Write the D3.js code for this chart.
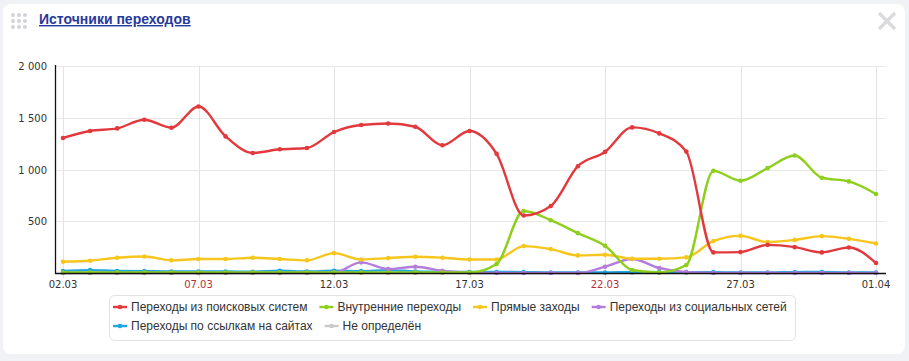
<!DOCTYPE html>
<html><head><meta charset="utf-8">
<script src="https://cdn.jsdelivr.net/npm/d3@7/dist/d3.min.js"></script>
<style>
html,body{margin:0;padding:0;background:#f1f2f6;}
svg{display:block;}
</style></head>
<body>
<svg id="c" width="909" height="361"></svg>
<script>
const dates = ["02.03","03.03","04.03","05.03","06.03","07.03","08.03","09.03","10.03","11.03","12.03","13.03","14.03","15.03","16.03","17.03","18.03","19.03","20.03","21.03","22.03","23.03","24.03","25.03","26.03","27.03","28.03","29.03","30.03","31.03","01.04"];
const tickLabels = ["02.03","07.03","12.03","17.03","22.03","27.03","01.04"];
const redTicks = ["07.03","22.03"];
const yTicks = [500,1000,1500,2000];
const seriesNames = ["Переходы из поисковых систем","Внутренние переходы","Прямые заходы","Переходы из социальных сетей","Переходы по ссылкам на сайтах","Не определён"];
const search   = [1305,1372,1397,1481,1404,1609,1320,1160,1195,1208,1362,1430,1445,1413,1234,1372,1151,555,647,1032,1170,1407,1349,1173,199,202,272,250,199,247,96];
const internal = [5,5,5,5,5,5,5,5,5,5,5,5,5,5,5,5,87,599,510,385,263,29,5,77,987,891,1013,1135,920,885,763];
const direct   = [109,119,148,160,122,135,135,148,135,122,192,131,144,157,148,131,131,260,231,170,176,138,138,151,308,359,298,320,356,330,285];
const social   = [0,0,0,0,0,0,0,0,0,0,2,103,38,61,22,3,0,0,0,0,61,135,48,8,0,0,0,0,0,0,0];
const links    = [20,28,20,18,15,15,15,12,22,15,22,18,28,15,12,10,10,8,5,5,5,10,8,8,8,5,5,8,10,5,5];
const unknown  = [2,2,2,2,2,2,2,2,2,2,2,2,2,2,2,2,2,2,2,2,2,2,2,2,2,2,2,2,2,2,2];
const colors = ["#e2393d","#8dcf1b","#f6c61c","#b47ddb","#1ea6e0","#c9c9c9"];
const allSeries = [search, internal, direct, social, links, unknown];

const svg = d3.select("#c");
// card
svg.append("rect").attr("x",3).attr("y",4).attr("width",902).attr("height",350).attr("rx",8).attr("fill","#fff");
// dots icon
for(let i=0;i<3;i++)for(let j=0;j<3;j++)
  svg.append("circle").attr("cx",13+j*6).attr("cy",15+i*6).attr("r",2).attr("fill","#d4d4d8");
svg.append("text").attr("x",39).attr("y",24).text("Источники переходов")
  .attr("font-family","Liberation Sans, Arial, sans-serif").attr("font-size",14).attr("font-weight","bold")
  .attr("fill","#27399a").attr("text-decoration","underline");
// close X
svg.append("path").attr("d","M879,13 L895,29 M895,13 L879,29").attr("stroke","#dadadd").attr("stroke-width",3.2);

const x = d3.scalePoint().domain(dates).range([63,876]);
const y = d3.scaleLinear().domain([0,2000]).range([273,66]);
const g = svg.append("g");
// horizontal grid
g.selectAll(".hg").data(yTicks).join("line")
  .attr("x1",55).attr("x2",886).attr("y1",d=>Math.round(y(d))+0.5).attr("y2",d=>Math.round(y(d))+0.5)
  .attr("stroke","#e8e8e8");
// vertical grid
g.selectAll(".vg").data(tickLabels).join("line")
  .attr("x1",d=>Math.round(x(d))+0.5).attr("x2",d=>Math.round(x(d))+0.5).attr("y1",66).attr("y2",278)
  .attr("stroke","#e3e3e3");
// y labels
g.selectAll(".yl").data(yTicks).join("text")
  .attr("x",47).attr("y",d=>y(d)+4).attr("text-anchor","end")
  .attr("font-family","DejaVu Sans, sans-serif").attr("font-size",10).attr("fill","#333")
  .text(d=>d3.format(",")(d).replace(",", " "));
// x labels
g.selectAll(".xl").data(tickLabels).join("text")
  .attr("x",d=>x(d)).attr("y",288).attr("text-anchor","middle")
  .attr("font-family","DejaVu Sans, sans-serif").attr("font-size",10)
  .attr("fill",d=>redTicks.includes(d)?"#b8303a":"#333").text(d=>d);

const line = d3.line().x((d,i)=>x(dates[i])).y(d=>y(d)).curve(d3.curveMonotoneX);
const order = [5,4,3,2,1,0];
order.forEach(k=>{
  const s = allSeries[k];
  g.append("path").datum(s).attr("d",line).attr("fill","none").attr("stroke",colors[k])
    .attr("stroke-width",2.4).attr("stroke-linejoin","round");
  g.selectAll(null).data(s).join("circle").attr("cx",(d,i)=>x(dates[i])).attr("cy",d=>y(d))
    .attr("r",2.3).attr("fill",colors[k]);
});
// axes lines
g.append("line").attr("x1",55.5).attr("x2",55.5).attr("y1",65).attr("y2",273.5).attr("stroke","#111").attr("stroke-width",1.3);
g.append("line").attr("x1",55).attr("x2",886).attr("y1",273.5).attr("y2",273.5).attr("stroke","#111").attr("stroke-width",1.6);

// legend
const lg = svg.append("g");
lg.append("rect").attr("x",109.5).attr("y",295.5).attr("width",686).attr("height",45).attr("rx",5)
  .attr("fill","#fff").attr("stroke","#e2e2e2");
const rows = [[0,1,2,3],[4,5]];
rows.forEach((row,ri)=>{
  let cx = 113;
  const cy = 307 + ri*19;
  row.forEach(k=>{
    lg.append("line").attr("x1",cx).attr("x2",cx+14).attr("y1",cy).attr("y2",cy).attr("stroke",colors[k]).attr("stroke-width",2.4);
    lg.append("circle").attr("cx",cx+7).attr("cy",cy).attr("r",2.3).attr("fill",colors[k]);
    const t = lg.append("text").attr("x",cx+18).attr("y",cy+4).text(seriesNames[k])
      .attr("font-family","Liberation Sans, Arial, sans-serif").attr("font-size",12).attr("fill","#333");
    cx += 18 + t.node().getComputedTextLength() + 12;
  });
});
</script>
</body></html>
